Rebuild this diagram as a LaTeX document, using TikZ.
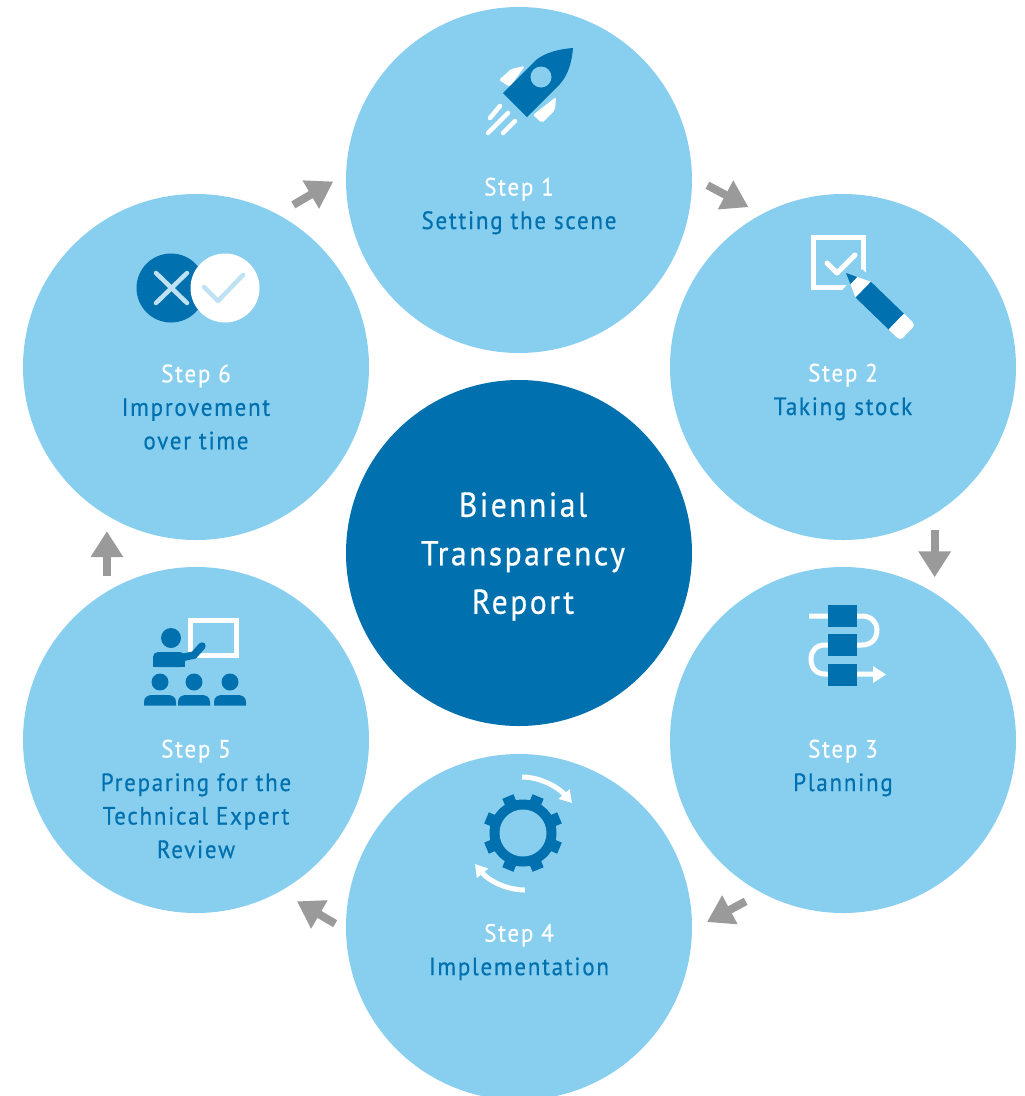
\documentclass[tikz,border=0pt]{standalone}
\usepackage{fontspec}
\setmainfont{PT Sans}
\newfontfamily\stepfont[LetterSpace=7,FakeStretch=0.92,FakeBold=0.5]{PT Sans}
\usetikzlibrary{arrows.meta}
\definecolor{lightc}{HTML}{88CFEF}
\definecolor{darkc}{HTML}{0071AE}
\definecolor{greyc}{HTML}{9A9A9A}
\definecolor{paleline}{HTML}{BFE2F3}
\tikzset{
  disc/.style={circle,fill=lightc,minimum size=346pt,inner sep=0pt,outer sep=0pt},
  hub/.style={circle,fill=darkc,minimum size=346pt,inner sep=0pt,outer sep=0pt},
  flow/.style={draw=greyc,line width=8pt,-{Triangle[width=31pt,length=26pt]}},
  label/.style={align=center,inner sep=0pt,font=\stepfont\fontsize{25}{33.5}\selectfont,text=darkc},
  hublabel/.style={align=center,inner sep=0pt,font=\stepfont\fontsize{34.5}{48.5}\selectfont,text=white},
  wl/.style={draw=white,line width=5pt},
  wlr/.style={draw=white,line width=5pt,line cap=round},
}
\newcommand{\stp}[1]{\textcolor{white}{#1}}
\begin{document}
\begin{tikzpicture}[x=1pt,y=-1pt]
\useasboundingbox (0,0) rectangle (1025,1096);
\fill[white] (0,0) rectangle (1025,1096);
% discs
\node[disc] (c1) at (519,180) {};
\node[disc] (c2) at (843,367) {};
\node[disc] (c3) at (843,740) {};
\node[disc] (c4) at (519,927) {};
\node[disc] (c5) at (196,740) {};
\node[disc] (c6) at (196,367) {};
\node[hub] (hub) at (519,553) {};
% connectors
\draw[flow,shorten <=18.6pt,shorten >=14.9pt] (c6.62.2) -- (c1.178.6);
\draw[flow,shorten <=17.5pt,shorten >=15.1pt] (c1.1.9) -- (c2.118.3);
\draw[flow,shorten <=16pt,shorten >=16pt] (c2.-58.3) -- (c3.58.3);
\draw[flow,shorten <=18.3pt,shorten >=17pt] (c3.242.5) -- (c4.-1.3);
\draw[flow,shorten <=12.6pt,shorten >=19.8pt] (c4.181) -- (c5.-61.8);
\draw[flow,shorten <=15.9pt,shorten >=15.9pt] (c5.121.7) -- (c6.-121.7);
% labels
\node[hublabel] (thub) at (523,556.5) {Biennial\\Transparency\\Report};
\node[label] (t1) at (519,206) {\stp{Step 1}\\Setting the scene};
\node[label] (t2) at (843,392) {\stp{Step 2}\\Taking stock};
\node[label] (t3) at (843,768) {\stp{Step 3}\\Planning};
\node[label] (t4) at (519,952) {\stp{Step 4}\\Implementation};
\node[label] (t5) at (196,799) {\stp{Step 5}\\Preparing for the\\Technical Expert\\Review};
\node[label] (t6) at (196,407) {\stp{Step 6}\\Improvement\\over time};
% rocket
\fill[white,rounded corners=2pt] (511,69) -- (525,66) -- (510,87) -- (499,80) -- cycle;
\fill[white,rounded corners=2pt] (556,97) -- (555,110) -- (542,123) -- (533,115) -- cycle;
\fill[darkc] (503,93) -- (527,117) -- (560,84) .. controls (569,74) and (572,60) .. (573,48) .. controls (560,49) and (546,52) .. (536,60) -- cycle;
\fill[lightc] (541,77) circle (10.5);
\draw[wlr,line width=4.5pt] (490,118) -- (500,106);
\draw[wlr,line width=4.5pt] (488,133) -- (508,113);
\draw[wlr,line width=4.5pt] (503,133) -- (515,121);
% checkbox and pencil
\draw[wl] (813,237) rectangle (863,287);
\draw[wlr,line join=round] (827,263) -- (837,273) -- (855,255);
\begin{scope}[shift={(846,273)},rotate=-44]
  \fill[lightc] (9,-14) rectangle (88,14);
  \fill[darkc] (0,0) -- (11,-5) -- (11,5) -- cycle;
  \fill[white] (11,-5) -- (24,-11) -- (24,11) -- (11,5) -- cycle;
  \fill[darkc] (24,-11) rectangle (70,11);
  \fill[white,rounded corners=4pt] (70,-11) -- (86,-11) -- (86,11) -- (70,11) -- cycle;
  \fill[white] (70,-11) rectangle (76,11);
\end{scope}
% planning
\draw[wl] (809,616) -- (862,616) .. controls (871,616) and (877,622) .. (877,630) .. controls (877,639) and (871,645) .. (862,645) -- (825,645) .. controls (816,645) and (811,651) .. (811,659) .. controls (811,668) and (816,674) .. (825,674) -- (875,674);
\fill[white] (873,666) -- (886,674.5) -- (873,683) -- cycle;
\fill[darkc] (828,605) rectangle (857,627);
\fill[darkc] (828,634) rectangle (857,656);
\fill[darkc] (828,664) rectangle (857,686);
% gear
\begin{scope}[shift={(523,833)}]
  \foreach \a in {22.5,67.5,...,337.5} \draw[darkc,line width=12pt] (\a:26) -- (\a:39.5);
  \fill[darkc] (0,0) circle (33.5);
  \fill[lightc] (0,0) circle (23.5);
\end{scope}
\draw[white,line width=5pt,-{Triangle[width=14pt,length=12pt]}] (522,777) .. controls (540,777) and (558,787) .. (572,803);
\draw[white,line width=5pt,-{Triangle[width=14pt,length=12pt]}] (525,890) .. controls (506,890) and (488,880) .. (475,864);
% teacher
\draw[wl] (190,620) rectangle (236,655);
\fill[darkc] (171,638) circle (10);
\fill[darkc,rounded corners=5pt] (153,667) -- (153,652) -- (185,652) -- (185,667) -- cycle;
\fill[darkc] (153,660) rectangle (185,667);
\draw[darkc,line width=7.5pt,line cap=round] (180,658) -- (194,655) -- (202,646);
\foreach \x in {160,194,230}{
  \fill[darkc] (\x,682) circle (8.5);
  \fill[darkc] (\x-16,705.5) -- (\x-16,702) .. controls (\x-16,697) and (\x-12,695) .. (\x-8,695) -- (\x+8,695) .. controls (\x+12,695) and (\x+16,697) .. (\x+16,702) -- (\x+16,705.5) -- cycle;
}
% cross and check
\fill[darkc] (171,288) circle (34.5);
\draw[paleline,line width=4.5pt,line cap=round] (156,273) -- (187,303);
\draw[paleline,line width=4.5pt,line cap=round] (187,273) -- (156,303);
\fill[white] (225,288) circle (34.5);
\draw[paleline,line width=4.5pt,line cap=round,line join=round] (204,287) -- (218,301) -- (243,275);
\end{tikzpicture}
\end{document}
